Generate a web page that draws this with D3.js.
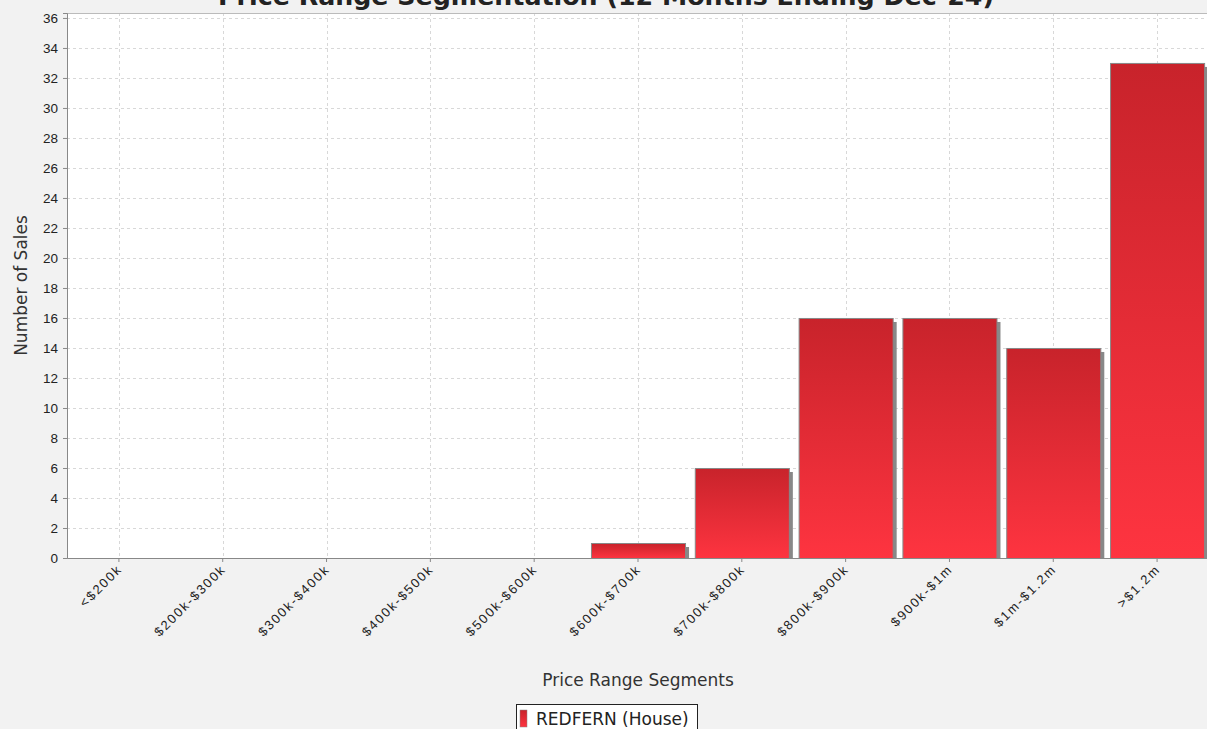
<!DOCTYPE html>
<html>
<head>
<meta charset="utf-8">
<title>Price Range Segmentation</title>
<script src="https://cdn.jsdelivr.net/npm/d3@7"></script>
<style>
  body { margin: 0; background: #f2f2f2; }
  svg { display: block; font-family: "DejaVu Sans", sans-serif; }
</style>
</head>
<body>
<div id="chart"></div>
<script>
var categories = ["<$200k", "$200k-$300k", "$300k-$400k", "$400k-$500k", "$500k-$600k",
                  "$600k-$700k", "$700k-$800k", "$800k-$900k", "$900k-$1m", "$1m-$1.2m", ">$1.2m"]
var sales = [0, 0, 0, 0, 0, 1, 6, 16, 16, 14, 33]
var yTicks = d3.range(0, 37, 2)
var seriesName = "REDFERN (House)"
var title = "Price Range Segmentation (12 Months Ending Dec-24)"

var width = 1207, height = 729
var m = { left: 67, top: 13, right: 1209, bottom: 558 }

var svg = d3.select("#chart").append("svg").attr("width", width).attr("height", height)

var defs = svg.append("defs")
var grad = defs.append("linearGradient").attr("id", "barGrad")
  .attr("x1", 0).attr("y1", 0).attr("x2", 0).attr("y2", 1)
grad.append("stop").attr("offset", "0%").attr("stop-color", "#c8232b")
grad.append("stop").attr("offset", "100%").attr("stop-color", "#fe3440")
defs.append("clipPath").attr("id", "plotClip").append("rect")
  .attr("x", m.left).attr("y", m.top).attr("width", m.right - m.left).attr("height", m.bottom - m.top)

var x = d3.scaleBand().domain(categories).range([m.left, m.right]).paddingInner(0.094).paddingOuter(0.047)
var y = d3.scaleLinear().domain([0, 36.33]).range([m.bottom, m.top])

// plot background
svg.append("rect").attr("x", m.left).attr("y", m.top)
  .attr("width", m.right - m.left).attr("height", m.bottom - m.top).attr("fill", "#fff")

// grid
var grid = svg.append("g").attr("stroke", "#d8d8d8").attr("stroke-dasharray", "3,3").attr("stroke-width", 1)
grid.selectAll("line.h").data(yTicks).enter().append("line")
  .attr("x1", m.left).attr("x2", m.right)
  .attr("y1", d => Math.round(y(d)) + 0.5).attr("y2", d => Math.round(y(d)) + 0.5)
grid.selectAll("line.v").data(categories).enter().append("line")
  .attr("y1", m.top).attr("y2", m.bottom)
  .attr("x1", d => Math.round(x(d) + x.bandwidth() / 2) + 0.5)
  .attr("x2", d => Math.round(x(d) + x.bandwidth() / 2) + 0.5)

// top border
svg.append("line").attr("x1", m.left).attr("x2", m.right).attr("y1", m.top + 0.5).attr("y2", m.top + 0.5)
  .attr("stroke", "#bbb")

// bars with shadows
var plot = svg.append("g").attr("clip-path", "url(#plotClip)")
var data = categories.map((c, i) => ({ cat: c, v: sales[i] })).filter(d => d.v > 0)
plot.selectAll("rect.shadow").data(data).enter().append("rect")
  .attr("x", d => x(d.cat) + 4).attr("y", d => y(d.v) + 4)
  .attr("width", x.bandwidth()).attr("height", d => y(0) - y(d.v))
  .attr("fill", "#888")
plot.selectAll("rect.bar").data(data).enter().append("rect")
  .attr("x", d => x(d.cat) + 0.5).attr("y", d => y(d.v) + 0.5)
  .attr("width", x.bandwidth()).attr("height", d => y(0) - y(d.v))
  .attr("fill", "url(#barGrad)").attr("stroke", "#888").attr("stroke-width", 1)

// axes
var yAxis = svg.append("g").attr("transform", "translate(" + m.left + ",0)")
  .call(d3.axisLeft(y).tickValues(yTicks).tickSize(4).tickPadding(5))
yAxis.select(".domain").attr("stroke", "#888")
yAxis.selectAll(".tick line").attr("stroke", "#888")
yAxis.selectAll("text").attr("font-size", 13.5).attr("fill", "#222")

var xAxis = svg.append("g").attr("transform", "translate(0," + m.bottom + ")")
  .call(d3.axisBottom(x).tickSize(4).tickSizeOuter(0))
xAxis.select(".domain").attr("stroke", "#888")
xAxis.selectAll(".tick line").attr("stroke", "#888")
xAxis.selectAll("text").attr("font-size", 13).attr("fill", "#222").attr("letter-spacing", 1.8)
  .attr("text-anchor", "end").attr("dy", null).attr("y", 0)
  .attr("transform", "translate(4,12) rotate(-45)")

// axis titles
svg.append("text").attr("x", (m.left + m.right) / 2).attr("y", 686)
  .attr("text-anchor", "middle").attr("font-size", 17).attr("fill", "#333").text("Price Range Segments")
svg.append("text").attr("transform", "translate(27," + (m.top + m.bottom) / 2 + ") rotate(-90)")
  .attr("text-anchor", "middle").attr("font-size", 17).attr("fill", "#333").text("Number of Sales")

// title (cut off at top, as in source)
svg.append("text").attr("x", 606).attr("y", 5).attr("text-anchor", "middle")
  .attr("font-size", 25.3).attr("font-weight", "bold").attr("fill", "#222").text(title)

// legend
var lg = svg.append("g")
lg.append("rect").attr("x", 516.5).attr("y", 704.5).attr("width", 181).attr("height", 30)
  .attr("fill", "#fff").attr("stroke", "#222")
lg.append("rect").attr("x", 520).attr("y", 710).attr("width", 7).attr("height", 17).attr("fill", "url(#barGrad)")
  .attr("stroke", "#888").attr("stroke-width", 0.5)
lg.append("text").attr("x", 536).attr("y", 725).attr("font-size", 17).attr("fill", "#222").text(seriesName)
</script>
</body>
</html>
